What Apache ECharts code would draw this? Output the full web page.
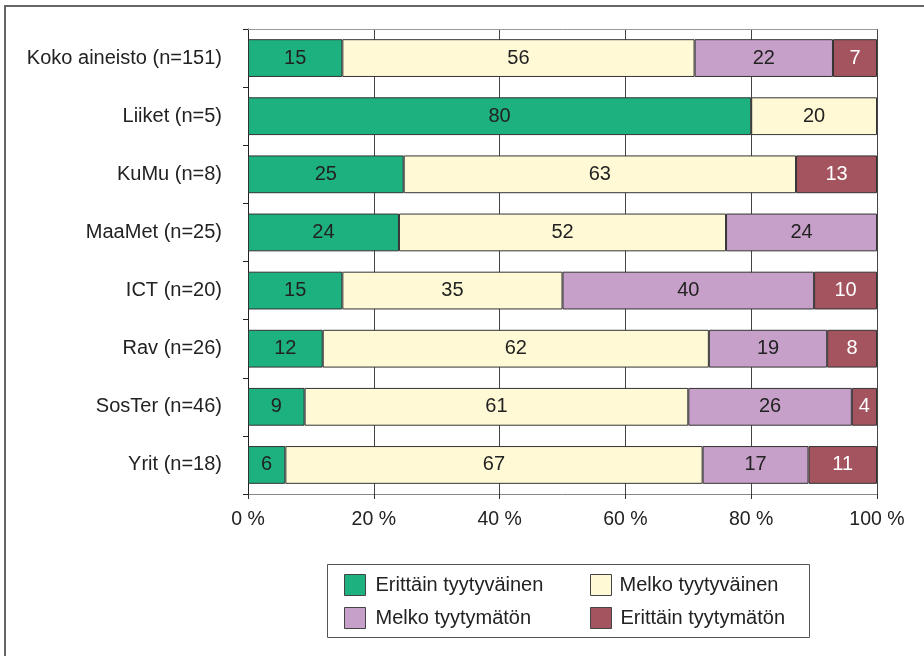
<!DOCTYPE html>
<html>
<head>
<meta charset="utf-8">
<script src="https://cdn.jsdelivr.net/npm/echarts@6/dist/echarts.min.js"></script>
<style>html,body{margin:0;padding:0;background:#fff}#c{width:924px;height:656px}</style>
</head>
<body>
<div id="c"></div>
<script>
var categories = ['Koko aineisto (n=151)', 'Liiket (n=5)', 'KuMu (n=8)', 'MaaMet (n=25)', 'ICT (n=20)', 'Rav (n=26)', 'SosTer (n=46)', 'Yrit (n=18)'];
var seriesNames = ['Erittäin tyytyväinen', 'Melko tyytyväinen', 'Melko tyytymätön', 'Erittäin tyytymätön'];
var erittainTyytyvainen = [15, 80, 25, 24, 15, 12, 9, 6];
var melkoTyytyvainen   = [56, 20, 63, 52, 35, 62, 61, 67];
var melkoTyytymaton    = [22, null, null, 24, 40, 19, 26, 17];
var erittainTyytymaton = [7, null, 13, null, 10, 8, 4, 11];
var xTicks = [0, 20, 40, 60, 80, 100];

var colors = ['#1db17f', '#fff9d6', '#c6a0c9', '#a4545f'];
var labelColors = ['#222', '#222', '#222', '#fff'];
var raw = [erittainTyytyvainen, melkoTyytyvainen, melkoTyytymaton, erittainTyytymaton];
var totals = categories.map(function (c, i) {
  return raw.reduce(function (s, arr) { return s + (arr[i] || 0); }, 0);
});
var FONT = 'Liberation Sans, Arial, sans-serif';

var series = raw.map(function (arr, k) {
  return {
    name: seriesNames[k],
    type: 'bar',
    stack: 'all',
    barWidth: '65%',
    xAxisIndex: 0,
    itemStyle: { color: colors[k], borderColor: '#333', borderWidth: 1 },
    label: {
      show: true, position: 'inside', color: labelColors[k],
      fontFamily: FONT, fontSize: 20,
      formatter: function (p) { return raw[k][p.dataIndex]; }
    },
    emphasis: { disabled: true },
    data: arr.map(function (v, i) { return v == null ? null : v / totals[i] * 100; })
  };
});

function legendItem(name, left, top, pad) {
  return {
    data: [name], left: left, top: top, orient: 'horizontal',
    itemWidth: 21, itemHeight: 21, itemGap: 0, padding: 0,
    icon: 'rect', selectedMode: false,
    textStyle: { fontFamily: FONT, fontSize: 20, color: '#222', padding: [0, 0, 0, pad] },
    itemStyle: { borderColor: '#444', borderWidth: 1 }
  };
}

var chart = echarts.init(document.getElementById('c'), null, { renderer: 'canvas' });
chart.setOption({
  animation: false,
  backgroundColor: '#fff',
  grid: { left: 248, right: 47, top: 29, bottom: 162 },
  xAxis: [{
    type: 'value', min: 0, max: 100, interval: 20,
    axisLine: { show: true, lineStyle: { color: '#888', width: 1 } },
    axisTick: { show: true, length: 5, lineStyle: { color: '#333' } },
    axisLabel: { margin: 16, fontFamily: FONT, fontSize: 19.5, color: '#222',
      formatter: function (v) { return xTicks.indexOf(v) >= 0 ? v + ' %' : ''; } },
    splitLine: { show: true, lineStyle: { color: '#444', width: 1 } }
  }, {
    type: 'value', min: 0, max: 100, position: 'top',
    axisLine: { show: true, lineStyle: { color: '#999', width: 1 } },
    axisTick: { show: false }, axisLabel: { show: false }, splitLine: { show: false }
  }],
  yAxis: {
    type: 'category', data: categories, inverse: true,
    axisLine: { show: true, lineStyle: { color: '#222', width: 1 } },
    axisTick: { show: true, length: 5, lineStyle: { color: '#222' } },
    axisLabel: { margin: 26, fontFamily: FONT, fontSize: 20, color: '#222' }
  },
  legend: [
    legendItem(seriesNames[0], 344, 574, 5),
    legendItem(seriesNames[1], 590, 574, 3),
    legendItem(seriesNames[2], 344, 607, 5),
    legendItem(seriesNames[3], 590, 607, 4)
  ],
  graphic: [
    { type: 'rect', silent: true, shape: { x: 5, y: 6, width: 1200, height: 1200 },
      style: { fill: 'none', stroke: '#666', lineWidth: 2 }, z: -10 },
    { type: 'rect', silent: true, shape: { x: 327.5, y: 564.5, width: 482, height: 73 },
      style: { fill: 'none', stroke: '#555', lineWidth: 1 }, z: -5 }
  ],
  series: series
});
</script>
</body>
</html>
